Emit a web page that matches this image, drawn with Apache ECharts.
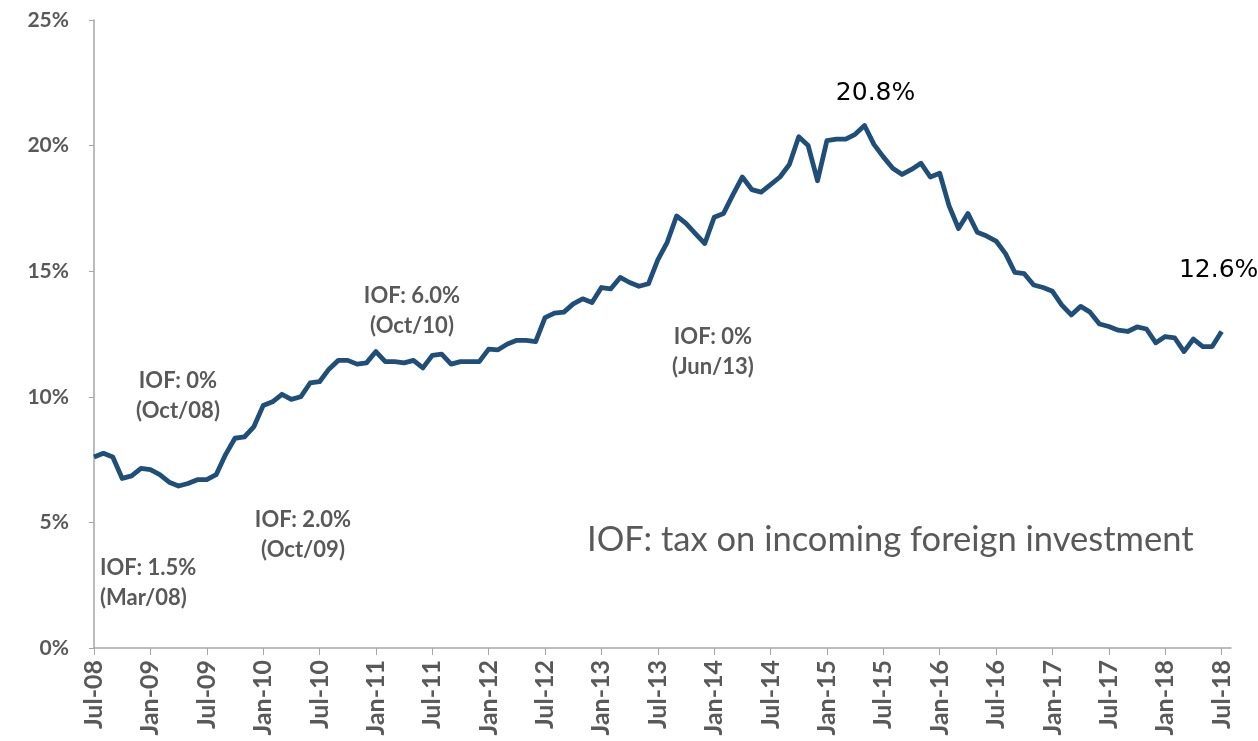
<!DOCTYPE html>
<html>
<head>
<meta charset="utf-8">
<script src="https://cdn.jsdelivr.net/npm/echarts@6/dist/echarts.min.js"></script>
<style>
  html, body { margin: 0; padding: 0; background: #fff; }
  #chart { width: 1258px; height: 741px; }
</style>
</head>
<body>
<div id="chart"></div>
<script>
// monthly, Jul-08 .. Jul-18 (axis runs one month past the last point)
const monthNames = ['Jan', 'Feb', 'Mar', 'Apr', 'May', 'Jun', 'Jul', 'Aug', 'Sep', 'Oct', 'Nov', 'Dec'];
const categories = [];
for (let k = 0; k < 122; k++) {
  const m = (6 + k) % 12;
  const y = 8 + Math.floor((6 + k) / 12);
  categories.push(monthNames[m] + '-' + String(y).padStart(2, '0'));
}

const share = [
  7.6, 7.75, 7.6, 6.75, 6.85, 7.15, 7.1, 6.9, 6.6, 6.45,
  6.55, 6.7, 6.7, 6.9, 7.7, 8.35, 8.4, 8.8, 9.65, 9.8,
  10.1, 9.9, 10.0, 10.55, 10.6, 11.1, 11.45, 11.45, 11.3, 11.35,
  11.8, 11.4, 11.4, 11.35, 11.45, 11.15, 11.65, 11.7, 11.3, 11.4,
  11.4, 11.4, 11.9, 11.87, 12.1, 12.25, 12.25, 12.2, 13.15, 13.33,
  13.37, 13.7, 13.9, 13.75, 14.35, 14.3, 14.75, 14.55, 14.4, 14.5,
  15.45, 16.15, 17.2, 16.9, 16.5, 16.1, 17.15, 17.3, 18.05, 18.75,
  18.25, 18.15, 18.45, 18.75, 19.25, 20.35, 20.0, 18.6, 20.2, 20.26,
  20.26, 20.45, 20.8, 20.05, 19.55, 19.1, 18.85, 19.05, 19.3, 18.75,
  18.9, 17.6, 16.7, 17.3, 16.55, 16.4, 16.2, 15.7, 14.95, 14.9,
  14.45, 14.35, 14.2, 13.65, 13.26, 13.6, 13.37, 12.9, 12.8, 12.65,
  12.6, 12.78, 12.7, 12.15, 12.4, 12.35, 11.8, 12.3, 12.0, 12.0,
  12.6
];

const yTicks = [0, 5, 10, 15, 20, 25];

// IOF rate changes shown as notes on the chart
const notes = [
  { text: 'IOF: 1.5%\n(Mar/08)', x: 100, y: 583, align: 'left' },
  { text: 'IOF: 0%\n(Oct/08)', x: 178, y: 396, align: 'center' },
  { text: 'IOF: 2.0%\n(Oct/09)', x: 303, y: 535, align: 'center' },
  { text: 'IOF: 6.0%\n(Oct/10)', x: 412, y: 311, align: 'center' },
  { text: 'IOF: 0%\n(Jun/13)', x: 713, y: 352, align: 'center' }
];

const peakIdx = 82;
const lastIdx = share.length - 1;

const seriesData = share.map((v, i) => {
  if (i === peakIdx) {
    return { value: v, label: { show: true, position: 'top', distance: 20, offset: [11, 0] } };
  }
  if (i === lastIdx) {
    return { value: v, label: { show: true, position: 'top', distance: 48, offset: [-3, 0] } };
  }
  return v;
});

const gray = '#595959';
const axisGray = '#A6A6A6';

const chart = echarts.init(document.getElementById('chart'));
chart.setOption({
  animation: false,
  grid: { left: 94, right: 27, top: 20, bottom: 93, containLabel: false },
  xAxis: {
    type: 'category',
    data: categories,
    boundaryGap: false,
    axisLine: { lineStyle: { color: axisGray, width: 1.5 } },
    axisTick: { show: true, interval: 5, length: 7, lineStyle: { color: axisGray } },
    axisLabel: {
      interval: 5,
      rotate: 90,
      margin: 12,
      color: gray,
      fontFamily: 'Lato',
      fontWeight: 'bold',
      fontSize: 25
    },
    splitLine: { show: false }
  },
  yAxis: {
    type: 'value',
    min: yTicks[0],
    max: yTicks[yTicks.length - 1],
    interval: 5,
    axisLine: { show: true, lineStyle: { color: axisGray, width: 1.5 } },
    axisTick: { show: true, length: 5, lineStyle: { color: axisGray } },
    axisLabel: {
      formatter: '{value}%',
      margin: 25,
      color: gray,
      fontFamily: 'Lato',
      fontWeight: 'bold',
      fontSize: 21
    },
    splitLine: { show: false }
  },
  series: [{
    type: 'line',
    data: seriesData,
    showSymbol: true,
    symbol: 'circle',
    symbolSize: 0,
    lineStyle: { color: '#1F4E79', width: 4.8, join: 'round' },
    label: {
      show: false,
      formatter: (p) => p.value.toFixed(1) + '%',
      color: '#000',
      fontFamily: 'DejaVu Sans',
      fontSize: 25
    }
  }],
  graphic: notes.map(n => ({
    type: 'text',
    style: {
      text: n.text,
      x: n.x,
      y: n.y,
      textAlign: n.align,
      textVerticalAlign: 'middle',
      fill: gray,
      font: 'bold 22px Lato',
      lineHeight: 30
    }
  })).concat([{
    type: 'text',
    style: {
      text: 'IOF: tax on incoming foreign investment',
      x: 587,
      y: 540,
      textAlign: 'left',
      textVerticalAlign: 'middle',
      fill: gray,
      font: '34.5px Lato'
    }
  }])
});
window.addEventListener('resize', () => chart.resize());
</script>
</body>
</html>
